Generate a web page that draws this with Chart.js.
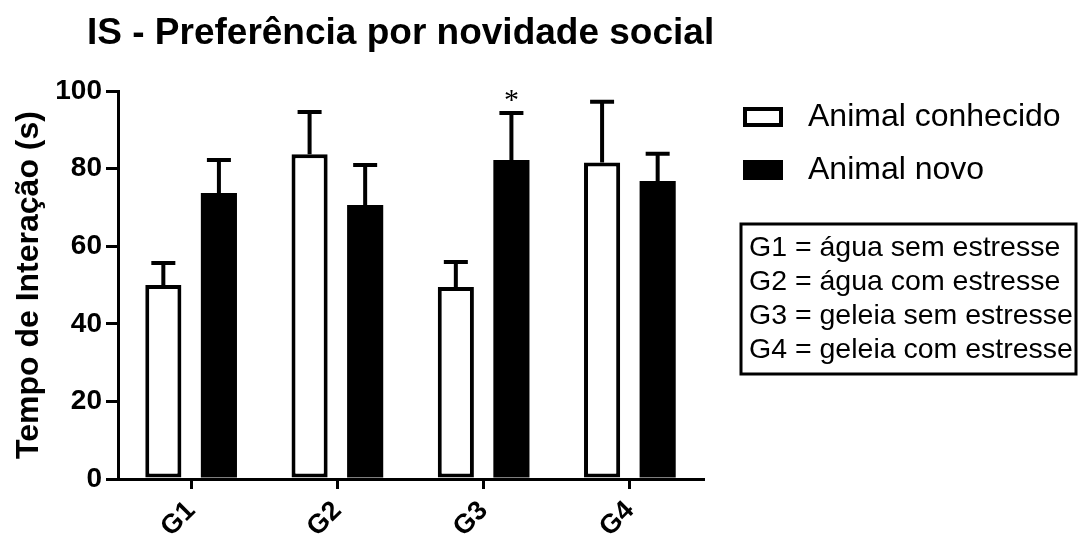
<!DOCTYPE html>
<html>
<head>
<meta charset="utf-8">
<script src="https://cdn.jsdelivr.net/npm/chart.js@4/dist/chart.umd.min.js"></script>
<style>
  body { margin: 0; background: #fff; }
  #wrap { width: 1079px; height: 539px; }
</style>
</head>
<body>
<div id="wrap"><canvas id="chart"></canvas></div>
<script>
const groups = ['G1', 'G2', 'G3', 'G4'];
const groupNames = [
  'G1 = água sem estresse',
  'G2 = água com estresse',
  'G3 = geleia sem estresse',
  'G4 = geleia com estresse'
];
const conhecido = [50.0, 83.7, 49.5, 81.6];
const conhecidoErr = [5.7, 10.9, 6.4, 15.6];
const novo = [73.7, 70.6, 82.2, 76.8];
const novoErr = [8.5, 10.3, 12.1, 7.0];
const novoSig = ['', '', '*', ''];
const yTicks = [0, 20, 40, 60, 80, 100];

const FONT = '"Liberation Sans", Arial, sans-serif';

// error bars (mean + SEM, upward only) and the asterisk
const errorBars = {
  id: 'errorBars',
  afterDatasetsDraw(chart) {
    const ctx = chart.ctx;
    const y = chart.scales.y;
    ctx.save();
    ctx.strokeStyle = '#000';
    ctx.lineWidth = 4;
    chart.data.datasets.forEach((ds, i) => {
      const meta = chart.getDatasetMeta(i);
      meta.data.forEach((bar, j) => {
        const top = y.getPixelForValue(ds.data[j] + ds.errors[j]);
        ctx.beginPath();
        ctx.moveTo(bar.x, bar.y);
        ctx.lineTo(bar.x, top);
        ctx.moveTo(bar.x - 12, top);
        ctx.lineTo(bar.x + 12, top);
        ctx.stroke();
        if (ds.sig && ds.sig[j]) {
          ctx.fillStyle = '#000';
          ctx.font = '30px "Liberation Serif", serif';
          ctx.textAlign = 'center';
          ctx.textBaseline = 'middle';
          ctx.fillText(ds.sig[j], bar.x, top - 12);
        }
      });
    });
    ctx.restore();
  }
};

// title, y-axis title, legend and group box
const decorations = {
  id: 'decorations',
  afterDraw(chart) {
    const ctx = chart.ctx;
    const area = chart.chartArea;
    ctx.save();
    ctx.fillStyle = '#000';

    ctx.font = 'bold 37px ' + FONT;
    ctx.textAlign = 'left';
    ctx.textBaseline = 'alphabetic';
    ctx.fillText('IS - Preferência por novidade social', 87, 44, 641);

    ctx.save();
    ctx.translate(29, (area.top + area.bottom) / 2);
    ctx.rotate(-Math.PI / 2);
    ctx.textAlign = 'center';
    ctx.textBaseline = 'middle';
    ctx.font = 'bold 32px ' + FONT;
    ctx.fillText('Tempo de Interação (s)', 0, 0);
    ctx.restore();

    // series legend
    chart.data.datasets.forEach((ds, i) => {
      const cy = 117 + i * 53;
      ctx.fillStyle = ds.backgroundColor;
      ctx.fillRect(743, cy - 10, 40, 20);
      ctx.strokeStyle = '#000';
      ctx.lineWidth = 4;
      ctx.strokeRect(745, cy - 8, 36, 16);
      ctx.fillStyle = '#000';
      ctx.font = '32px ' + FONT;
      ctx.textAlign = 'left';
      ctx.textBaseline = 'middle';
      ctx.fillText(ds.label, 808, cy);
    });

    // group description box
    ctx.strokeStyle = '#000';
    ctx.lineWidth = 3;
    ctx.strokeRect(741, 224, 335, 150);
    ctx.font = '28.5px ' + FONT;
    ctx.textBaseline = 'middle';
    groupNames.forEach((t, i) => {
      ctx.fillText(t, 749, 248 + i * 34);
    });
    ctx.restore();
  }
};

new Chart(document.getElementById('chart'), {
  type: 'bar',
  data: {
    labels: groups,
    datasets: [
      {
        label: 'Animal conhecido',
        data: conhecido,
        errors: conhecidoErr,
        backgroundColor: '#fff',
        borderColor: '#000',
        borderWidth: 4,
        borderSkipped: false,
        categoryPercentage: 0.76,
        barPercentage: 0.65
      },
      {
        label: 'Animal novo',
        data: novo,
        errors: novoErr,
        sig: novoSig,
        backgroundColor: '#000',
        borderColor: '#000',
        borderWidth: 0,
        borderSkipped: false,
        categoryPercentage: 0.76,
        barPercentage: 0.65
      }
    ]
  },
  options: {
    responsive: true,
    maintainAspectRatio: false,
    animation: false,
    layout: { padding: { top: 91, right: 376, bottom: 0, left: 0 } },
    plugins: {
      legend: { display: false },
      title: { display: false },
      tooltip: { enabled: false }
    },
    scales: {
      x: {
        grid: {
          offset: false,
          drawOnChartArea: false,
          drawTicks: true,
          tickLength: 10,
          color: '#000',
          lineWidth: 3
        },
        border: { display: true, color: '#000', width: 3 },
        ticks: {
          color: '#000',
          font: { family: FONT, size: 27, weight: 'bold' },
          minRotation: 45,
          maxRotation: 45,
          padding: 6
        },
        afterFit(s) { s.height = 60; }
      },
      y: {
        min: 0,
        max: 100,
        afterBuildTicks(s) { s.ticks = yTicks.map(v => ({ value: v })); },
        grid: {
          drawOnChartArea: false,
          drawTicks: true,
          tickLength: 12,
          color: '#000',
          lineWidth: 3
        },
        border: { display: true, color: '#000', width: 3 },
        ticks: {
          color: '#000',
          font: { family: FONT, size: 28, weight: 'bold' },
          padding: 4
        },
        afterFit(s) { s.width = 118; }
      }
    }
  },
  plugins: [errorBars, decorations]
});
</script>
</body>
</html>
